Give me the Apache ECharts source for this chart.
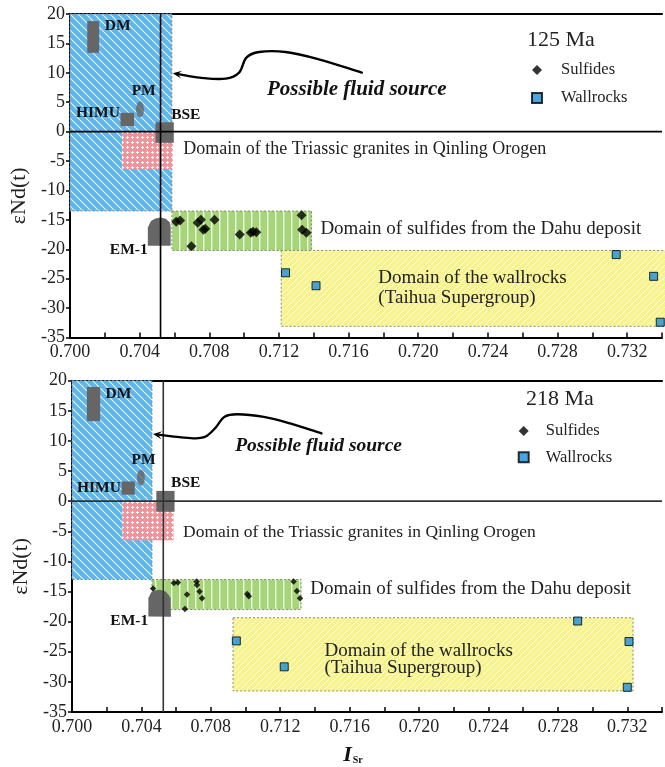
<!DOCTYPE html>
<html><head><meta charset="utf-8">
<script src="https://cdn.jsdelivr.net/npm/echarts@6/dist/echarts.min.js"></script>
<style>html,body{margin:0;padding:0;background:#fff;overflow:hidden}#c{width:665px;height:767px}</style>
</head><body><div id="c"></div><script>
// ---------- DATA ----------
const xTickLabels = ['0.700','0.704','0.708','0.712','0.716','0.720','0.724','0.728','0.732'];
const yTickLabels = ['-35','-30','-25','-20','-15','-10','-5','0','5','10','15','20'];
const panelTitles = ['125 Ma', '218 Ma'];
const seriesNames = ['Sulfides', 'Wallrocks'];

// 125 Ma panel
const sulfides125 = [[0.70610,-15.3],[0.70632,-15.1],[0.70733,-15.5],[0.70752,-15.0],[0.70766,-16.7],[0.70777,-16.5],[0.70830,-15.0],[0.70697,-19.5],[0.70975,-17.5],[0.71038,-17.2],[0.71051,-17.0],[0.71070,-17.1],[0.71330,-14.2],[0.71333,-16.7],[0.71358,-17.2]];
const wallrocks125 = [[0.71238,-24.0],[0.71413,-26.2],[0.73137,-20.9],[0.73352,-24.6],[0.73390,-32.4]];
// domains: [x0, x1, y0, y1] : fluid source, Triassic granites, sulfides, wallrocks
const domains125 = [[0.700,0.70585,-13.5,20],[0.70299,0.70590,-6.4,0],[0.70585,0.71387,-20.2,-13.5],[0.71213,0.7346,-33.1,-20.2]];
// end-members: DM, HIMU, BSE rectangles
const endRects125 = [[0.70099,0.70167,13.4,18.8],[0.70290,0.70368,0.95,3.2],[0.70491,0.70596,-1.9,1.6]];
const pm125 = [[0.70402,3.8]];
const em1_125 = [[0.70447,-19.4],[0.70447,-16.3],[0.70465,-15.2],[0.70490,-14.75],[0.70520,-14.6],[0.70550,-14.8],[0.70572,-15.4],[0.70578,-16.1],[0.70578,-19.4]];
const refX125 = 0.70520;
const arrow125 = [[0.70590,9.91],[0.70629,9.74],[0.70743,9.18],[0.70895,9.01],[0.70971,10.03],[0.71013,12.59],[0.71086,13.54],[0.71238,13.54],[0.71429,12.30],[0.71676,10.03]];
const labels125 = [
  ['DM',0.70200,17.96,'em'],['PM',0.70354,6.90,'em'],['HIMU',0.70034,3.23,'em'],['BSE',0.70581,2.77,'em'],['EM-1',0.70229,-20.19,'em'],
  ['Possible fluid source',0.71647,7.19,'fluidTop'],
  ['Domain of the Triassic granites in Qinling Orogen',0.70651,-3.01,'granTop'],
  ['Domain of sulfides from the Dahu deposit',0.71438,-16.50,'domain'],
  ['Domain of the wallrocks',0.71771,-24.83,'domain'],
  ['(Taihua Supergroup)',0.71771,-28.23,'domain']
];

// 218 Ma panel
const sulfides218 = [[0.70467,-14.5],[0.70587,-13.6],[0.70610,-13.5],[0.70718,-13.35],[0.70720,-13.9],[0.70735,-15.0],[0.70663,-15.5],[0.70749,-16.1],[0.70651,-17.9],[0.71010,-15.4],[0.71019,-15.8],[0.71277,-13.35],[0.71296,-14.9],[0.71314,-16.1]];
const wallrocks218 = [[0.70947,-23.2],[0.71223,-27.5],[0.72914,-19.9],[0.73210,-23.3],[0.73200,-30.9]];
const domains218 = [[0.700,0.70461,-13.0,20],[0.70290,0.70585,-6.5,0],[0.70461,0.71320,-18.0,-13.0],[0.70928,0.73233,-31.5,-19.35]];
const endRects218 = [[0.70086,0.70162,13.3,18.95],[0.70286,0.70362,1.08,3.27],[0.70486,0.70591,-1.75,1.7]];
const pm218 = [[0.70397,3.9]];
const em1_218 = [[0.70440,-19.15],[0.70440,-16.1],[0.70455,-15.2],[0.70480,-14.8],[0.70507,-14.7],[0.70540,-15.0],[0.70558,-15.6],[0.70568,-16.1],[0.70570,-19.2]];
const refX218 = 0.70526;
const arrow218 = [[0.70467,11.16],[0.70495,11.05],[0.70667,10.51],[0.70762,10.62],[0.70829,12.25],[0.70877,13.99],[0.70953,14.43],[0.71105,13.99],[0.71257,12.91],[0.71438,11.27]];
const labels218 = [
  ['DM',0.70193,17.86,'em'],['PM',0.70343,6.91,'em'],['HIMU',0.70029,2.17,'em'],['BSE',0.70571,2.99,'em'],['EM-1',0.70221,-19.89,'em'],
  ['Possible fluid source',0.71421,9.15,'fluidBot'],
  ['Domain of the Triassic granites in Qinling Orogen',0.70640,-5.18,'granBot'],
  ['Domain of sulfides from the Dahu deposit',0.71373,-14.54,'domain'],
  ['Domain of the wallrocks',0.71455,-24.90,'domain'],
  ['(Taihua Supergroup)',0.71455,-27.78,'domain']
];

// ---------- STYLES ----------
const FONT = "'Liberation Serif','Times New Roman',serif";
function pattern(w,h,bg,draw){const c=document.createElement('canvas');c.width=w;c.height=h;const g=c.getContext('2d');g.fillStyle=bg;g.fillRect(0,0,w,h);draw(g,w,h);return {image:c,repeat:'repeat'};}
const blueFill = pattern(8,8,'#5fb6ec',(g,w,h)=>{g.strokeStyle='rgba(255,255,255,0.85)';g.lineWidth=1.1;for(const k of [-w,0,w]){g.beginPath();g.moveTo(k,0);g.lineTo(k+w,h);g.stroke();}});
const yellowFill = pattern(6,6,'#f6f38c',(g,w,h)=>{g.strokeStyle='rgba(255,255,255,0.75)';g.lineWidth=1;for(const k of [-w,0,w]){g.beginPath();g.moveTo(k,h);g.lineTo(k+w,0);g.stroke();}});
const greenFill = pattern(8,8,'#a6d577',(g,w,h)=>{g.fillStyle='rgba(255,255,255,0.85)';g.fillRect(3,0,1.4,h);});
const pinkFill = pattern(5,5,'#f1939a',(g)=>{g.fillStyle='#fff';g.fillRect(2,1,1,3);g.fillRect(1,2,3,1);});
const domainStyles = [
  {fill:blueFill, stroke:'#7a8a99'},
  {fill:pinkFill, stroke:null},
  {fill:greenFill, stroke:'#7c8a70'},
  {fill:yellowFill, stroke:'#8c8c70'}
];
const textStyles = {
  em:{font:"bold 15.5px "+FONT, align:'left', color:'#111'},
  fluidTop:{font:"italic bold 21px "+FONT, align:'center', color:'#111'},
  fluidBot:{font:"italic bold 19.5px "+FONT, align:'center', color:'#111'},
  granTop:{font:"18px "+FONT, align:'left', color:'#222'},
  granBot:{font:"17.5px "+FONT, align:'left', color:'#222'},
  domain:{font:"19px "+FONT, align:'left', color:'#222'}
};
const GREY = '#666666';

// ---------- SERIES BUILDERS ----------
function rectSeries(ax, rects, styleFn, z){
  return {type:'custom', xAxisIndex:ax, yAxisIndex:ax, z:z, silent:true, clip:false,
    data: rects.map((d,i)=>[d[0],d[1],d[2],d[3],i]), encode:{x:[0,1], y:[2,3]},
    renderItem:(p,api)=>{
      const a=api.coord([api.value(0),api.value(3)]), b=api.coord([api.value(1),api.value(2)]);
      const s=styleFn(api.value(4));
      return {type:'rect', shape:{x:a[0],y:a[1],width:b[0]-a[0],height:b[1]-a[1]}, style:s};
    }};
}
function domainStyle(i){const d=domainStyles[i];return {fill:d.fill, stroke:d.stroke||'none', lineWidth:d.stroke?1:0, lineDash:d.stroke?[2,2]:null};}
function polySeries(ax, pts){
  return {type:'custom', xAxisIndex:ax, yAxisIndex:ax, z:2, silent:true, clip:false, data:[pts[0]],
    renderItem:(p,api)=>({type:'polygon', shape:{points:pts.map(q=>api.coord(q))}, style:{fill:GREY}})};
}
function textSeries(ax, items){
  return {type:'custom', xAxisIndex:ax, yAxisIndex:ax, z:10, silent:true, clip:false,
    data: items.map((t,i)=>[t[1],t[2],i]),
    renderItem:(p,api)=>{
      const t=items[api.value(2)], s=textStyles[t[3]], c=api.coord([api.value(0),api.value(1)]);
      return {type:'text', x:c[0], y:c[1], style:{text:t[0], fill:s.color, font:s.font, textAlign:s.align, textVerticalAlign:'middle', align:s.align, verticalAlign:'middle'}};
    }};
}
function refLines(ax, xv, color){
  return [
    {type:'line', xAxisIndex:ax, yAxisIndex:ax, z:5, silent:true, symbol:'none', lineStyle:{color:color,width:1.6}, data:[[xv,-35],[xv,20]]},
    {type:'line', xAxisIndex:ax, yAxisIndex:ax, z:5, silent:true, symbol:'none', lineStyle:{color:color,width:1.6}, data:[[0.700,0],[0.734,0]]}
  ];
}
function arrowSeries(ax, pts){
  return {type:'custom', xAxisIndex:ax, yAxisIndex:ax, z:8, silent:true, clip:false, data:[pts[0]],
    renderItem:(p,api)=>{
      const c = pts.map(q=>api.coord(q));
      const tip = c[0], nx = c[1];
      const ang = Math.atan2(nx[1]-tip[1], nx[0]-tip[0]);
      const ux=Math.cos(ang), uy=Math.sin(ang), vx=-uy, vy=ux, L=9, W=4;
      const head = [[tip[0],tip[1]],[tip[0]+ux*L+vx*W, tip[1]+uy*L+vy*W],[tip[0]+ux*L*0.55, tip[1]+uy*L*0.55],[tip[0]+ux*L-vx*W, tip[1]+uy*L-vy*W]];
      const line = c.slice(); line[0] = [tip[0]+ux*4, tip[1]+uy*4];
      line.push(c[c.length-1].slice());
      return {type:'group', children:[
        {type:'polyline', shape:{points:line, smooth:0.35}, style:{stroke:'#000', lineWidth:2.3, fill:null, lineCap:'round'}},
        {type:'polygon', shape:{points:head}, style:{fill:'#000'}}
      ]};
    }};
}
function pointSeries(ax, sul, wal, dSize){
  return [
    {name:seriesNames[0], type:'scatter', xAxisIndex:ax, yAxisIndex:ax, z:9, symbol:'diamond', symbolSize:dSize, itemStyle:{color:'#000'}, data:sul},
    {name:seriesNames[1], type:'scatter', xAxisIndex:ax, yAxisIndex:ax, z:9, symbol:'rect', symbolSize:8, itemStyle:{color:'#1b8fdb', borderColor:'#000', borderWidth:1}, data:wal}
  ];
}
function pmSeries(ax, d){
  return {type:'scatter', xAxisIndex:ax, yAxisIndex:ax, z:2, silent:true, symbol:'circle', symbolSize:[8,16], itemStyle:{color:GREY}, data:d};
}

function xAx(gi, withName){
  const a = {type:'value', gridIndex:gi, min:0.700, max:0.734, interval:0.002, position:'bottom',
    axisLine:{onZero:false, lineStyle:{color:'#000', width:2}},
    axisTick:{inside:true, length:5, lineStyle:{color:'#000', width:1.5}},
    axisLabel:{margin:6, color:'#222', fontFamily:FONT, fontSize:18, showMaxLabel:true, showMinLabel:true,
      formatter:v=>{const k=Math.round((v-0.700)/0.002); return k%2===0 && xTickLabels[k/2] ? xTickLabels[k/2] : '';}},
    splitLine:{show:false}};
  if(withName){
    a.name='{i|I}{s|Sr}'; a.nameLocation='middle'; a.nameGap=32;
    a.nameTextStyle={padding:[0,28,0,0], rich:{
      i:{fontFamily:FONT, fontStyle:'italic', fontWeight:'bold', fontSize:22, color:'#111'},
      s:{fontFamily:FONT, fontWeight:'bold', fontSize:10, color:'#111', padding:[10,0,0,1]}}};
  }
  return a;
}
function xTop(gi){
  return {type:'value', gridIndex:gi, min:0.700, max:0.734, position:'top',
    axisLine:{onZero:false, lineStyle:{color:'#000', width:2.2}}, axisTick:{show:false}, axisLabel:{show:false}, splitLine:{show:false}};
}
function yAx(gi, shift){
  return {type:'value', gridIndex:gi, min:-35, max:20, interval:5,
    axisLine:{onZero:false, lineStyle:{color:'#000', width:2}},
    axisTick:{inside:false, length:4, lineStyle:{color:'#000', width:1.5}},
    axisLabel:{margin:5, color:'#222', fontFamily:FONT, fontSize:18,
      formatter:v=>{const k=Math.round((v+35)/5); return yTickLabels[k]!==undefined ? yTickLabels[k] : '';}},
    splitLine:{show:false},
    name:'εNd(t)', nameLocation:'middle', nameGap:40, nameRotate:90,
    nameTextStyle:{fontFamily:FONT, fontSize:22, color:'#222', padding:[0,shift,0,0]}};
}

const legendCommon = {orient:'vertical', selectedMode:false, padding:0, itemWidth:10, itemHeight:10,
  textStyle:{fontFamily:FONT, fontSize:16.5, color:'#222'}};

const option = {
  animation:false,
  backgroundColor:'#fff',
  title:[
    {text:panelTitles[0], left:527, top:29, padding:0, textStyle:{fontFamily:FONT, fontSize:22, fontWeight:'normal', color:'#222'}},
    {text:panelTitles[1], left:526, top:388, padding:0, textStyle:{fontFamily:FONT, fontSize:22, fontWeight:'normal', color:'#222'}}
  ],
  legend:[
    Object.assign({}, legendCommon, {left:531, top:61.5, itemGap:11, data:[{name:seriesNames[0],icon:'diamond'},{name:seriesNames[1],icon:'rect'}],
      textStyle:Object.assign({}, legendCommon.textStyle, {padding:[0,0,0,14]})}),
    Object.assign({}, legendCommon, {left:517.7, top:422.5, itemGap:9.3, data:[{name:seriesNames[0],icon:'diamond'},{name:seriesNames[1],icon:'rect'}],
      textStyle:Object.assign({}, legendCommon.textStyle, {padding:[0,0,0,12]})})
  ],
  grid:[
    {left:70, top:14, width:596, height:323.5, show:false},
    {left:72, top:380.7, width:596, height:336.8, show:false}
  ],
  xAxis:[xAx(0,false), xAx(1,true), xTop(0), xTop(1)],
  yAxis:[yAx(0,40), yAx(1,40)],
  series:[
    rectSeries(0, domains125, domainStyle, 1),
    rectSeries(0, endRects125, ()=>({fill:GREY}), 2),
    polySeries(0, em1_125),
    pmSeries(0, pm125),
    ...refLines(0, refX125, '#000'),
    arrowSeries(0, arrow125),
    ...pointSeries(0, sulfides125, wallrocks125, 10),
    textSeries(0, labels125),

    rectSeries(1, domains218, domainStyle, 1),
    rectSeries(1, endRects218, ()=>({fill:GREY}), 2),
    polySeries(1, em1_218),
    pmSeries(1, pm218),
    ...refLines(1, refX218, '#333'),
    arrowSeries(1, arrow218),
    ...pointSeries(1, sulfides218, wallrocks218, 6.5),
    textSeries(1, labels218)
  ]
};
const chart = echarts.init(document.getElementById('c'), null, {renderer:'canvas'});
chart.setOption(option);
</script></body></html>
